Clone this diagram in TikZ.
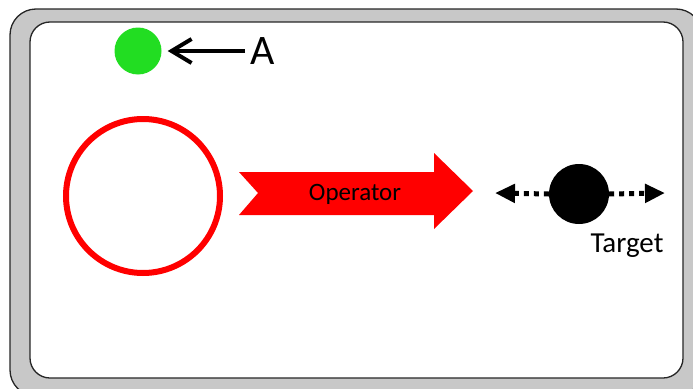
\documentclass[tikz,border=0pt]{standalone}
\usepackage{fontspec}
\setmainfont{Carlito}
\usetikzlibrary{arrows.meta, positioning}
\definecolor{FrameGray}{HTML}{C8C8C8}
\definecolor{BallGreen}{HTML}{22DD22}
\definecolor{OpRed}{HTML}{FF0000}

\begin{document}
\begin{tikzpicture}[x=1pt, y=-1pt,
  ball/.style={circle, inner sep=0pt, minimum size=#1},
  txt/.style={inner sep=0pt, font=\fontsize{#1}{#1}\selectfont},
  frame/.style={draw=black!85, line width=1.3pt},
  dotarrow/.style={line width=5pt, dash pattern=on 5pt off 5pt,
                   -{Triangle[length=20pt, width=18pt]}}
]
  \useasboundingbox (0,0) rectangle (693,388);
  \clip (0,0) rectangle (693,388);

  % frame
  \draw[frame, fill=FrameGray, rounded corners=26pt] (10,9) rectangle (702,396);
  \draw[frame, fill=white, rounded corners=20pt] (30,22) rectangle (683,378);

  % small ball and its label
  \node[ball=47pt, fill=BallGreen] (ballA) at (138,51) {};
  \node[txt=42pt, anchor=west] (labA) at (250,51) {A};
  \draw[line width=4pt, -{Straight Barb[length=20pt, width=24pt]}]
    ([xshift=-5pt]labA.west) -- ([xshift=6pt]ballA.east);

  % ring and operator arrow
  \node[ball=154pt, draw=OpRed, line width=6pt] (ring) at (143,196) {};
  \fill[OpRed] (239,172) -- (434,172) -- (434,153) -- (473,191)
    -- (434,229) -- (434,215) -- (239,215) -- (258,193) -- cycle;
  \node[txt=25pt] (op) at (355,194) {Operator};

  % target
  \node[ball=60pt, fill=black] (tgt) at (579,194) {};
  \coordinate (tgtL) at (495,193);
  \coordinate (tgtR) at (665,193);
  \draw[dotarrow] (tgt.west) -- (tgtL);
  \draw[dotarrow] (tgt.east) -- (tgtR);
  \node[txt=29pt] (tgtname) at (627,246) {Target};
\end{tikzpicture}
\end{document}
